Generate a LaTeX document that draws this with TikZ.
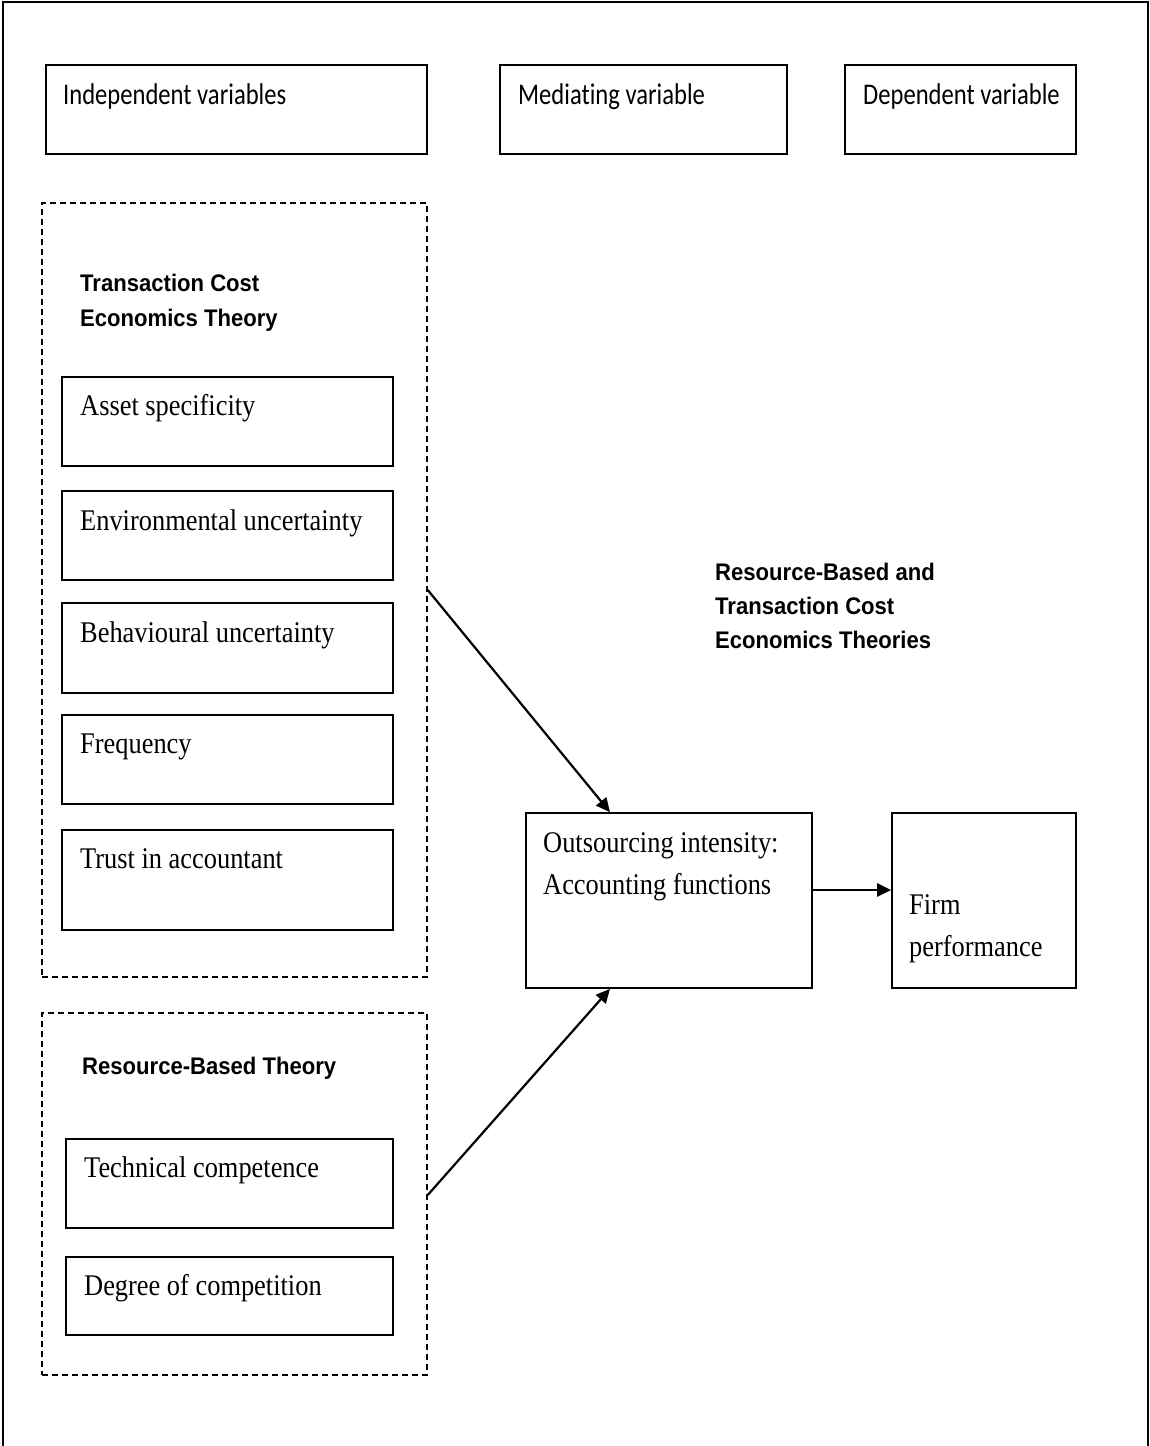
\documentclass[tikz,border=0pt]{standalone}
\usepackage{fontspec}
\usetikzlibrary{arrows.meta,fit}
\newfontfamily\tnr[FakeStretch=0.88]{Liberation Serif}
\newfontfamily\calfont[FakeStretch=0.82,Ligatures={NoCommon}]{Carlito}
\newfontfamily\arb[FakeStretch=0.92]{Liberation Sans}
\begin{document}
\begin{tikzpicture}[x=1pt,y=-1pt,
  box/.style={draw,line width=1.7pt,inner sep=0pt},
  dbox/.style={draw,line width=1.5pt,dash pattern=on 6pt off 4pt,inner sep=0pt},
  hdr/.style={anchor=base west,inner sep=0pt,font=\calfont\fontsize{30}{36}\selectfont},
  item/.style={anchor=base west,inner sep=0pt,font=\tnr\fontsize{30}{42}\selectfont},
  theo/.style={anchor=base west,inner sep=0pt,font=\arb\bfseries\fontsize{24}{34}\selectfont},
  arr/.style={line width=2.2pt,-{Triangle[length=14pt,width=13pt]}}]
\useasboundingbox (0,0) rectangle (1150,1446);
\fill[white] (0,0) rectangle (1150,1446);
% outer frame
\draw[line width=2.5pt] (3,1446) -- (3,2) -- (1148,2) -- (1148,1446);
% header boxes
\node[box,fit={(46,65) (427,154)}] (indep) {};
\node[box,fit={(500,65) (787,154)}] (medi) {};
\node[box,fit={(845,65) (1076,154)}] (dep) {};
\node[hdr] (tindep) at (63,104) {Independent variables};
\node[hdr] (tmedi) at (518,104) {Mediating variable};
\node[hdr] (tdep) at (863,104) {Dependent variable};
% TCE group
\node[dbox,fit={(42,203) (427,977)}] (tce) {};
\node[theo] (ttce1) at (80,291) {Transaction Cost};
\node[theo] (ttce2) at (80,326) {Economics Theory};
\node[box,fit={(62,377) (393,466)}] (asset) {};
\node[box,fit={(62,491) (393,580)}] (env) {};
\node[box,fit={(62,603) (393,693)}] (beh) {};
\node[box,fit={(62,715) (393,804)}] (freq) {};
\node[box,fit={(62,830) (393,930)}] (trust) {};
\node[item] (tasset) at (80,415) {Asset specificity};
\node[item] (tenv) at (80,530) {Environmental uncertainty};
\node[item] (tbeh) at (80,642) {Behavioural uncertainty};
\node[item] (tfreq) at (80,753) {Frequency};
\node[item] (ttrust) at (80,868) {Trust in accountant};
% RBT group
\node[dbox,fit={(42,1013) (427,1375)}] (rbt) {};
\node[theo] (trbt) at (82,1074) {Resource-Based Theory};
\node[box,fit={(66,1139) (393,1228)}] (tech) {};
\node[box,fit={(66,1257) (393,1335)}] (deg) {};
\node[item] (ttech) at (84,1177) {Technical competence};
\node[item] (tdeg) at (84,1295) {Degree of competition};
% middle theory label
\node[theo] (tmid1) at (715,580) {Resource-Based and};
\node[theo] (tmid2) at (715,614) {Transaction Cost};
\node[theo] (tmid3) at (715,648) {Economics Theories};
% mediating and dependent boxes
\node[box,fit={(526,813) (812,988)}] (outs) {};
\node[box,fit={(892,813) (1076,988)}] (firm) {};
\node[item] (touts1) at (543,852) {Outsourcing intensity:};
\node[item] (touts2) at (543,894) {Accounting functions};
\node[item] (tfirm1) at (909,914) {Firm};
\node[item] (tfirm2) at (909,956) {performance};
% connectors
\coordinate (a1s) at (427,590);
\coordinate (a2s) at (427,1195);
\coordinate (ain) at (610,900);
\coordinate (a3) at (0,890);
\draw[arr] (tce.east |- a1s) -- (outs.north -| ain);
\draw[arr] (rbt.east |- a2s) -- (outs.south -| ain);
\draw[arr] (outs.east |- a3) -- (firm.west |- a3);
\end{tikzpicture}
\end{document}
